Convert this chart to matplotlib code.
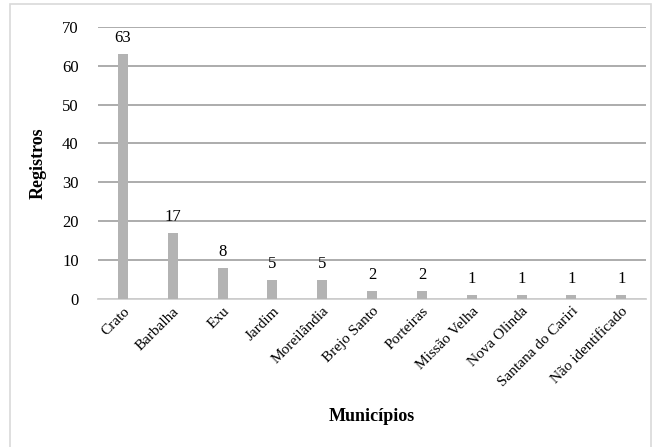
import matplotlib
matplotlib.use("Agg")
import matplotlib.pyplot as plt
from matplotlib.patches import Rectangle

municipios = ["Crato", "Barbalha", "Exu", "Jardim", "Moreilândia", "Brejo Santo",
              "Porteiras", "Missão Velha", "Nova Olinda", "Santana do Cariri",
              "Não identificado"]
registros = [63, 17, 8, 5, 5, 2, 2, 1, 1, 1, 1]

plt.rcParams['font.family'] = ['Liberation Serif', 'DejaVu Serif']

fig = plt.figure(figsize=(6.54, 4.47), dpi=100)
ax = fig.add_axes([0.150, 0.331, 0.838, 0.609])

x = range(len(municipios))
ax.bar(x, registros, width=0.2, color='#b3b3b3', zorder=3)
for xi, v in zip(x, registros):
    ax.text(xi, v + 2.0, str(v), ha='center', va='bottom', fontsize=12)

ax.set_xlim(-0.5, len(municipios) - 0.5)
ax.set_ylim(0, 70)
ax.set_yticks(range(0, 71, 10))
ax.yaxis.grid(True, color='#a6a6a6', linewidth=1.3, zorder=0)
ax.tick_params(axis='y', length=0, labelsize=12, pad=14)
ax.tick_params(axis='x', length=0, labelsize=11, pad=4)
ax.set_xticks(list(x))
ax.set_xticklabels(municipios, rotation=45, ha='right', rotation_mode='anchor')

for s in ['top', 'right', 'left']:
    ax.spines[s].set_visible(False)
ax.spines['bottom'].set_color('#d0d0d0')
ax.spines['bottom'].set_linewidth(1.3)

ax.set_ylabel("Registros", fontweight='bold', fontsize=13)
ax.yaxis.set_label_coords(-0.093, 0.5)
ax.set_xlabel("Municípios", fontweight='bold', fontsize=13)
ax.xaxis.set_label_coords(0.5, -0.40)

fig.patches.append(Rectangle((0.015, -0.01), 0.98, 1.0, transform=fig.transFigure,
                             fill=False, edgecolor='#d9d9d9', linewidth=1.2))

fig.savefig("out.png", dpi=100)
